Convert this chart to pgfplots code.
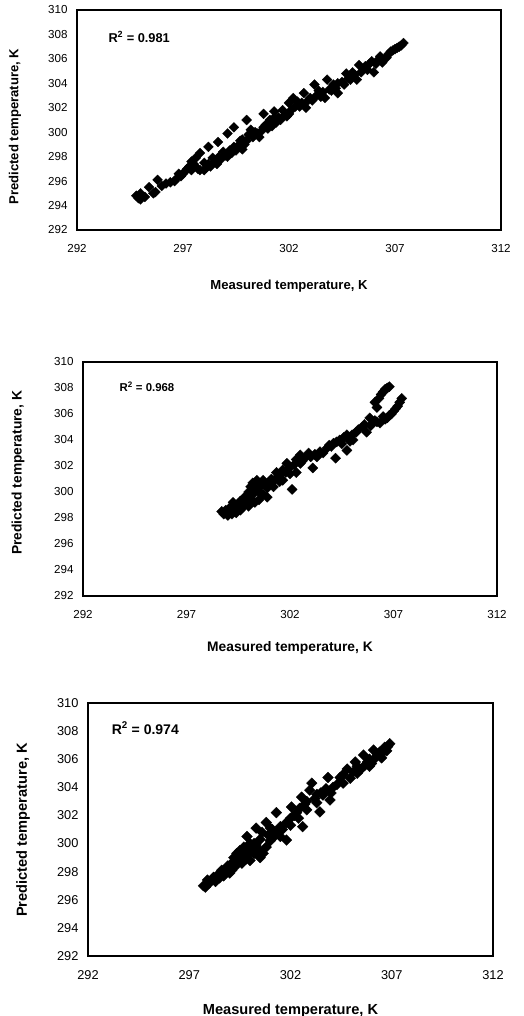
\documentclass[border=0pt]{standalone}
\usepackage{pgfplots}
\pgfplotsset{compat=1.18}
\usepackage{fontspec}
\setmainfont{Liberation Sans}
\pgfplotsset{
  myax/.style={
    scale only axis,
    xmin=292, xmax=312, ymin=292, ymax=310,
    xtick={292,297,302,307,312},
    ytick={292,294,...,310},
    major tick length=0pt,
    axis line style={line width=1.4bp},
    /pgf/number format/assume math mode=true,
    /pgf/number format/1000 sep={},
    xticklabel style={yshift=-11bp},
    yticklabel style={xshift=-6bp},
    clip=false,
  },
  myplot/.style={only marks, mark=square*, mark size=#1,
    mark options={rotate=45, fill=black, draw=black, line width=0.3bp}},
}
\begin{document}
\begin{tikzpicture}
\useasboundingbox (0,0) rectangle (524bp,1016bp);
% ---------- plot 1 ----------
\begin{axis}[myax, at={(77bp,786bp)}, anchor=south west, width=424bp, height=220bp,
  ticklabel style={font=\fontsize{11.6bp}{12bp}\selectfont},
  xlabel={\bfseries Measured temperature, K},
  ylabel={\bfseries Predicted temperature, K},
  label style={font=\fontsize{13.1bp}{14bp}\selectfont},
  xlabel style={at={(axis description cs:0.5,-0.2545)}, anchor=center},
  ylabel style={at={(axis description cs:-0.146,0.47)}, anchor=center, rotate=0}]
\addplot[myplot=3.5bp] table {
294.8 294.8
294.9 294.6
295.0 294.5
295.0 295.0
295.2 294.7
295.4 295.5
295.6 295.0
295.7 295.1
295.8 296.1
296.0 295.6
296.2 295.8
296.4 295.9
296.6 296.0
296.7 296.2
296.8 296.6
296.9 296.4
297.0 296.6
297.1 296.8
297.2 297.0
297.3 297.2
297.4 297.6
297.4 296.9
297.5 297.4
297.6 297.9
297.8 298.3
297.7 297.0
297.8 296.9
298.0 296.9
298.1 297.1
298.2 297.4
298.3 297.2
298.0 297.5
298.2 298.8
298.4 297.9
298.5 297.6
298.6 297.4
298.7 298.0
298.65 299.2
298.8 297.8
298.9 298.4
299.0 298.1
299.1 298.0
299.1 299.9
299.2 298.5
299.3 298.3
299.4 298.8
299.4 300.4
299.5 298.5
299.6 298.9
299.7 299.3
299.8 298.6
299.8 299.4
299.9 299.0
300.0 301.0
300.0 299.3
300.1 299.8
300.2 300.2
300.3 299.6
300.4 300.0
300.5 299.9
300.6 299.6
300.7 300.1
300.8 300.4
300.8 301.5
300.9 300.6
301.0 300.3
301.1 301.0
301.2 300.5
301.3 301.2
301.4 300.8
301.3 301.7
301.5 301.2
301.6 301.0
301.7 301.8
301.8 301.4
301.9 301.3
302.0 301.5
302.0 302.4
302.1 301.8
302.2 302.8
302.3 302.1
302.4 302.5
302.5 302.1
302.6 302.4
302.7 303.2
302.8 302.0
302.9 302.6
303.0 302.8
303.1 302.6
303.2 303.9
303.3 303.0
303.4 303.4
303.5 302.9
303.6 303.3
303.7 302.8
303.8 304.3
303.9 303.5
304.0 303.4
304.1 303.9
304.2 303.6
304.3 303.2
304.3 304.0
304.5 304.1
304.6 303.9
304.7 304.8
304.8 304.4
304.9 304.3
305.0 304.9
305.1 304.7
305.2 304.3
305.3 305.5
305.4 304.9
305.5 305.2
305.6 305.4
305.7 305.1
305.8 305.6
305.9 305.8
306.0 304.9
306.1 305.6
306.2 305.9
306.3 306.2
306.4 305.7
306.5 306.0
306.6 306.1
306.7 306.4
306.8 306.6
306.9 306.7
307.0 306.8
307.1 306.9
307.2 307.0
307.3 307.1
307.4 307.3
};
\node[anchor=west, font=\fontsize{12.8bp}{13bp}\selectfont\bfseries] at (rel axis cs:0.066,0.877) {R\textsuperscript{2} = 0.981};
\end{axis}
% ---------- plot 2 ----------
\begin{axis}[myax, at={(83bp,420bp)}, anchor=south west, width=414bp, height=234bp,
  ticklabel style={font=\fontsize{11.6bp}{12bp}\selectfont},
  xlabel={\bfseries Measured temperature, K},
  ylabel={\bfseries Predicted temperature, K},
  label style={font=\fontsize{13.8bp}{15bp}\selectfont},
  xlabel style={at={(axis description cs:0.5,-0.222)}, anchor=center},
  ylabel style={at={(axis description cs:-0.157,0.526)}, anchor=center}]
\addplot[myplot=3.6bp] table {
298.7 298.5
298.8 298.3
298.9 298.6
299.0 298.2
299.0 298.5
299.1 298.8
299.1 298.4
299.2 298.3
299.25 299.2
299.3 298.5
299.3 298.9
299.4 298.4
299.4 298.7
299.5 298.9
299.5 299.1
299.6 298.6
299.6 299.3
299.7 298.8
299.8 299.0
299.8 299.6
299.9 299.2
300.0 298.9
300.0 299.5
300.0 300.0
300.1 299.4
300.1 300.4
300.2 300.7
300.2 299.8
300.3 299.2
300.3 300.5
300.4 300.9
300.4 300.2
300.5 299.4
300.5 300.0
300.6 300.5
300.6 299.9
300.7 300.9
300.7 299.8
300.8 300.6
300.9 299.6
300.9 300.3
301.0 300.8
301.1 301.0
301.2 300.4
301.3 301.0
301.35 301.5
301.5 301.3
301.5 300.8
301.65 301.7
301.65 300.9
301.8 301.5
301.85 302.2
302.0 301.9
302.0 301.4
302.1 300.2
302.2 302.1
302.3 301.5
302.3 302.5
302.5 302.85
302.5 302.2
302.6 302.4
302.7 302.6
302.9 303.0
303.0 302.7
303.1 301.85
303.2 302.9
303.3 302.7
303.45 303.1
303.6 303.0
303.8 303.4
303.9 303.6
304.0 303.5
304.1 303.75
304.2 302.6
304.25 303.85
304.4 304.0
304.5 303.7
304.6 304.2
304.75 304.4
304.75 303.2
304.9 303.9
305.0 304.4
305.05 304.0
305.2 304.6
305.3 304.8
305.5 305.0
305.6 305.2
305.7 304.6
305.85 305.7
305.9 305.1
306.0 305.3
306.1 305.5
306.2 305.4
306.2 306.5
306.1 306.9
306.35 305.3
306.4 307.5
306.5 307.7
306.5 305.8
306.6 305.6
306.7 308.0
306.8 308.1
306.7 305.7
306.8 305.9
306.9 306.0
307.0 306.2
307.1 306.4
307.2 306.6
307.3 306.9
307.4 307.2
306.6 307.9
306.3 307.2
};
\node[anchor=west, font=\fontsize{11.4bp}{12bp}\selectfont\bfseries] at (rel axis cs:0.080,0.893) {R\textsuperscript{2} = 0.968};
\end{axis}
% ---------- plot 3 ----------
\begin{axis}[myax, at={(88bp,60bp)}, anchor=south west, width=405bp, height=253bp,
  ticklabel style={font=\fontsize{12.8bp}{13bp}\selectfont},
  xlabel={\bfseries Measured temperature, K},
  ylabel={\bfseries Predicted temperature, K},
  label style={font=\fontsize{14.6bp}{16bp}\selectfont},
  xlabel style={at={(axis description cs:0.5,-0.215)}, anchor=center},
  ylabel style={at={(axis description cs:-0.160,0.498)}, anchor=center}]
\addplot[myplot=3.8bp] table {
297.7 297.0
297.8 296.9
297.9 297.4
298.0 297.2
298.2 297.6
298.3 297.3
298.5 297.55
298.5 297.9
298.6 298.1
298.7 297.7
298.8 298.0
298.9 298.4
299.0 298.3
299.0 297.9
299.1 298.6
299.1 298.1
299.2 298.7
299.2 299.0
299.3 298.4
299.35 299.3
299.4 298.8
299.5 299.0
299.5 299.5
299.6 298.6
299.6 298.9
299.7 299.75
299.7 299.2
299.8 298.9
299.85 300.5
299.9 299.5
299.9 299.2
300.0 298.8
300.0 300.0
300.1 299.7
300.2 299.3
300.2 300.0
300.3 301.1
300.3 299.9
300.4 299.6
300.5 300.3
300.5 299.0
300.6 300.8
300.65 299.3
300.8 301.5
300.8 299.75
300.9 300.6
301.0 300.2
301.0 301.1
301.1 301.0
301.2 300.5
301.3 302.2
301.3 300.75
301.5 301.2
301.5 300.5
301.6 301.0
301.8 300.25
301.8 301.5
302.0 301.8
302.0 301.3
302.05 302.6
302.2 302.0
302.3 302.2
302.4 301.8
302.45 302.5
302.55 303.3
302.6 301.2
302.7 302.8
302.8 303.0
302.8 302.4
302.95 303.8
303.05 304.3
303.2 303.2
303.3 303.5
303.3 302.9
303.45 302.25
303.5 303.6
303.6 303.45
303.75 303.9
303.85 304.7
303.95 303.1
304.0 303.6
304.1 304.0
304.3 304.2
304.45 304.7
304.6 304.3
304.6 304.9
304.8 305.3
304.95 304.65
305.1 305.1
305.2 305.8
305.3 305.0
305.3 305.5
305.45 305.25
305.6 306.3
305.7 305.6
305.8 305.8
305.9 306.0
305.9 305.5
306.0 305.7
306.1 306.65
306.2 306.1
306.3 306.3
306.4 306.5
306.5 306.4
306.5 306.1
306.65 306.85
306.75 306.6
306.9 307.1
306.8 306.9
};
\node[anchor=west, font=\fontsize{14bp}{15bp}\selectfont\bfseries] at (rel axis cs:0.050,0.901) {R\textsuperscript{2} = 0.974};
\end{axis}
\end{tikzpicture}
\end{document}
